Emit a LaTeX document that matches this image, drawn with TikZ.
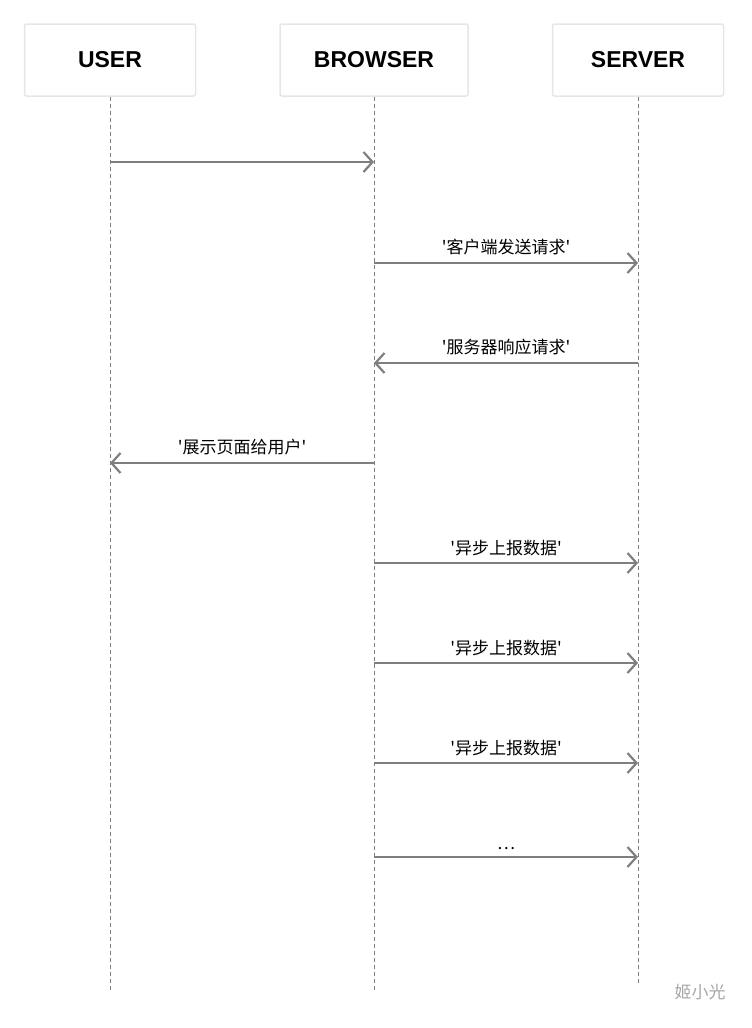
\documentclass[tikz,border=0pt]{standalone}
\usepackage{fontspec}
\setmainfont{Liberation Sans}
\newfontfamily\cjk{Noto Sans CJK SC}
\usetikzlibrary{arrows.meta, positioning}
\definecolor{msggray}{HTML}{7F7F7F}
\definecolor{boxline}{HTML}{E6E6E6}
\begin{document}
\begin{tikzpicture}[x=1pt, y=-1pt, >={Straight Barb[length=9pt,width=20pt,line width=2.2pt]},
				Actor/.style={draw=boxline, line width=1.5pt, rounded corners=2pt,
					minimum width=171pt, minimum height=72pt, font=\bfseries\fontsize{23}{26}\selectfont},
				Life/.style={draw=msggray, dash pattern=on 4pt off 3pt, line width=1pt},
				Msg/.style={->, draw=msggray, line width=2.5pt},
				Lbl/.style={midway, above=3pt, font=\cjk\fontsize{17}{20}\selectfont}]
				\useasboundingbox (0,0) rectangle (752,1028);
				% actors
				\node[Actor] (user) at (110,60) {USER};
				\node[Actor, minimum width=188pt] (browser) at (374,60) {BROWSER};
				\node[Actor] (server) at (638,60) {SERVER};
				% lifelines
				\coordinate (uEnd) at (110,990);
				\coordinate (bEnd) at (374,990);
				\coordinate (sEnd) at (638,985);
				\draw[Life] (user) -- (uEnd);
				\draw[Life] (browser) -- (bEnd);
				\draw[Life] (server) -- (sEnd);
				% messages
				\coordinate (u1) at (110,162); \coordinate (b1) at (374,162);
				\draw[Msg] (u1) -- (b1);
				\foreach \y/\t in {263/'客户端发送请求', 563/'异步上报数据', 663/'异步上报数据', 763/'异步上报数据', 857/\ldots}{
					\coordinate (bs) at (374,\y); \coordinate (ss) at (638,\y);
					\draw[Msg] (bs) -- (ss) node[Lbl]{\t};
				}
				\coordinate (s2) at (638,363); \coordinate (b2) at (374,363);
				\draw[Msg] (s2) -- (b2) node[Lbl]{'服务器响应请求'};
				\coordinate (b3) at (374,463); \coordinate (u3) at (110,463);
				\draw[Msg] (b3) -- (u3) node[Lbl]{'展示页面给用户'};
				% watermark
				\node[text=gray!70, font=\cjk\fontsize{17}{20}\selectfont] (mark) at (700,992) {姬小光};
			\end{tikzpicture}
\end{document}
